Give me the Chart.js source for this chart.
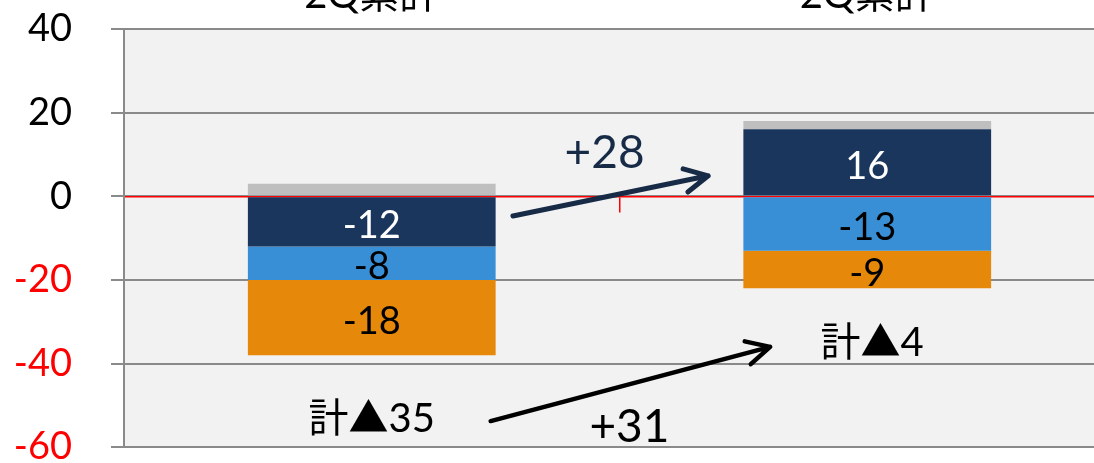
<!DOCTYPE html>
<html>
<head>
<meta charset="utf-8">
<script src="https://cdn.jsdelivr.net/npm/chart.js@4.4.1/dist/chart.umd.min.js"></script>
<style>
    html, body { margin: 0; padding: 0; background: #fff; overflow: hidden; width: 1094px; height: 463px; }
    #wrap { position: absolute; left: 0; top: -47px; }
</style>
</head>
<body>
<div id="wrap"><canvas id="chart" width="1116" height="556"></canvas></div>
<script>
// chart data
const categories = ['2Q累計', '2Q累計'];
const seriesNavy = [-12, 16];
const seriesBlue = [-8, -13];
const seriesOrange = [-18, -9];
const seriesGrey = [3, 2];
const yMin = -60;
const yMax = 40;
const yStep = 20;
const totalLabels = ['計▲35', '計▲4'];
const changeLabels = ['+28', '+31'];

const FONT = "Lato, 'Noto Sans CJK JP', sans-serif";

/**
 * annotation placement, in data units (x = category index, y = value)
 */
let notes = [
    {text: changeLabels[0], x: 0.47, y: 10.4, size: 46, color: '#172b47'},
    {text: changeLabels[1], x: 0.52, y: -55.2, size: 46, color: '#000000'},
    {text: totalLabels[0], x: 0.0, y: -53.2, size: 40, color: '#000000'},
    {text: totalLabels[1], x: 1.01, y: -35.2, size: 40, color: '#000000'}
];
let arrows = [
    {from: [0.285, -4.7], to: [0.679, 4.9], width: 5, color: '#172b47'},
    {from: [0.24, -53.75], to: [0.804, -36.0], width: 4.5, color: '#000000'}
];

/**
 * grey plot area
 */
const plotBackground = {
    id: 'plotBackground',
    beforeDraw(chart) {
        const a = chart.chartArea;
        const ctx = chart.ctx;
        ctx.save();
        ctx.fillStyle = '#f2f2f2';
        ctx.fillRect(a.left, a.top, a.right - a.left, a.bottom - a.top);
        ctx.restore();
    }
};

/**
 * values written in the middle of every segment
 */
const segmentLabels = {
    id: 'segmentLabels',
    afterDatasetsDraw(chart) {
        const ctx = chart.ctx;
        ctx.save();
        ctx.font = '38px ' + FONT;
        ctx.textAlign = 'center';
        ctx.textBaseline = 'middle';
        chart.data.datasets.forEach(function (ds, i) {
            if (!ds.labelColor) {
                return;
            }
            chart.getDatasetMeta(i).data.forEach(function (bar, j) {
                const c = bar.getCenterPoint();
                ctx.fillStyle = ds.labelColor;
                ctx.fillText(String(ds.data[j]), c.x, c.y + 4);
            });
        });
        ctx.restore();
    }
};

/**
 * arrows and free texts
 */
const annotations = {
    id: 'annotations',
    afterDraw(chart) {
        const ctx = chart.ctx;
        const xs = chart.scales.x;
        const ys = chart.scales.y;
        ctx.save();
        for (const a of arrows) {
            const x0 = xs.getPixelForValue(a.from[0]), y0 = ys.getPixelForValue(a.from[1]);
            const x1 = xs.getPixelForValue(a.to[0]), y1 = ys.getPixelForValue(a.to[1]);
            const ang = Math.atan2(y1 - y0, x1 - x0);
            const head = 26, spread = 27 * Math.PI / 180;
            ctx.strokeStyle = a.color;
            ctx.lineWidth = a.width;
            ctx.lineCap = 'round';
            ctx.lineJoin = 'round';
            ctx.beginPath();
            ctx.moveTo(x0, y0);
            ctx.lineTo(x1, y1);
            ctx.moveTo(x1 - head * Math.cos(ang - spread), y1 - head * Math.sin(ang - spread));
            ctx.lineTo(x1, y1);
            ctx.lineTo(x1 - head * Math.cos(ang + spread), y1 - head * Math.sin(ang + spread));
            ctx.stroke();
        }
        ctx.textAlign = 'center';
        ctx.textBaseline = 'middle';
        for (const n of notes) {
            ctx.font = n.size + 'px ' + FONT;
            ctx.fillStyle = n.color;
            ctx.fillText(n.text, xs.getPixelForValue(n.x), ys.getPixelForValue(n.y));
        }
        ctx.restore();
    }
};

new Chart(document.getElementById('chart'), {
    type: 'bar',
    data: {
        labels: categories,
        datasets: [
            {data: seriesNavy, backgroundColor: '#1b365d', labelColor: '#ffffff'},
            {data: seriesBlue, backgroundColor: '#388fd6', labelColor: '#000000'},
            {data: seriesOrange, backgroundColor: '#e6880a', labelColor: '#000000'},
            {data: seriesGrey, backgroundColor: '#bfbfbf'}
        ]
    },
    options: {
        responsive: false,
        animation: false,
        events: [],
        layout: {padding: {top: 6, right: 1, bottom: 30, left: 0}},
        datasets: {
            bar: {categoryPercentage: 1, barPercentage: 0.5, borderWidth: 0}
        },
        plugins: {
            legend: {display: false},
            tooltip: {enabled: false}
        },
        scales: {
            x: {
                stacked: true,
                position: {y: 0},
                z: 1,
                afterFit(scale) {
                    scale.height = 0;
                },
                grid: {drawOnChartArea: false, drawTicks: true, tickLength: 15, color: '#ff0000', lineWidth: 1.5},
                border: {color: '#ff0000', width: 1.5},
                ticks: {display: false}
            },
            x2: {
                type: 'category',
                position: 'top',
                afterFit(scale) {
                    scale.height = 70;
                },
                grid: {display: false, drawTicks: false},
                border: {display: false},
                ticks: {color: '#000000', padding: 10, font: {size: 40, family: FONT}}
            },
            y: {
                stacked: true,
                min: yMin,
                max: yMax,
                afterFit(scale) {
                    scale.width = 124;
                },
                grid: {color: '#8a8a8a', lineWidth: 2, tickLength: 13},
                border: {color: '#8a8a8a', width: 2},
                ticks: {
                    stepSize: yStep,
                    padding: 39,
                    font: {size: 38, family: FONT},
                    color: function (c) {
                        return c.tick && c.tick.value < 0 ? '#ff0000' : '#000000';
                    }
                }
            }
        }
    },
    plugins: [plotBackground, segmentLabels, annotations]
});
</script>
</body>
</html>
